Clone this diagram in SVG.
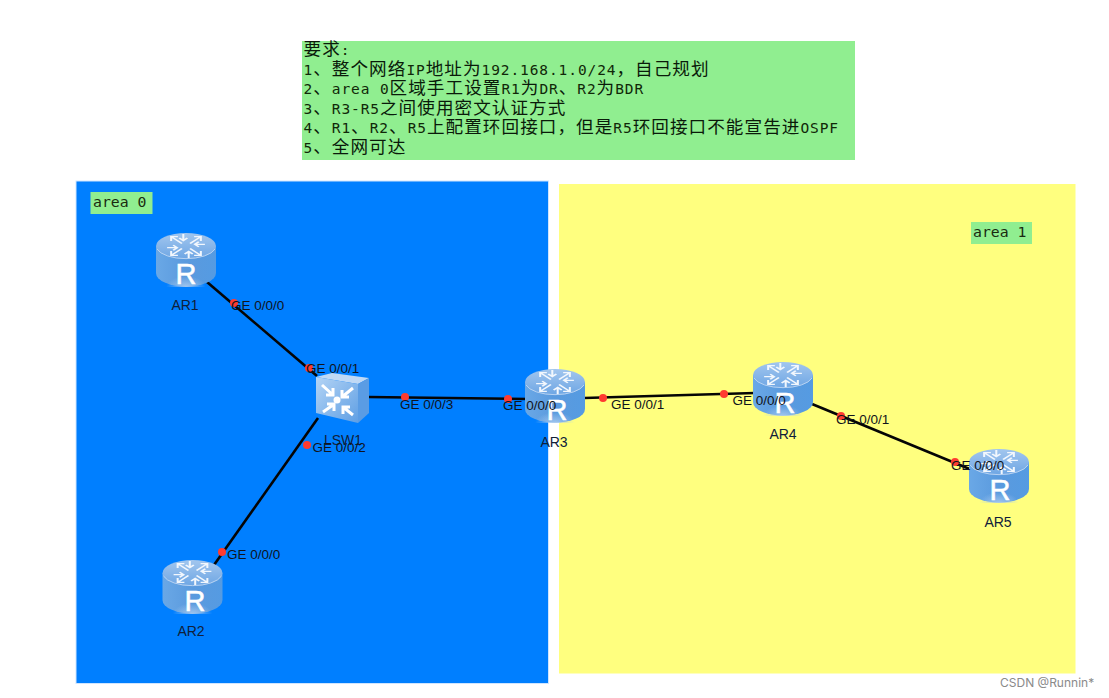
<svg xmlns="http://www.w3.org/2000/svg" width="1109" height="698" viewBox="0 0 1109 698">
<style>
.note{font-family:"DejaVu Sans Mono","Liberation Mono",monospace;font-size:14.5px;letter-spacing:.9px;fill:#102808}
.c{font-family:"Noto Sans CJK SC",sans-serif;font-size:17.600px;letter-spacing:1.050px;fill:#0a1a0a}
.tag{font-family:"DejaVu Sans Mono","Liberation Mono",monospace;font-size:14.8px;fill:#1a2a10}
.lbl{font-family:"Liberation Sans",Arial,sans-serif;font-size:13.5px;fill:#10141c}
.name{font-family:"Liberation Sans",Arial,sans-serif;font-size:14px;fill:#10203a;text-anchor:middle}
.rt{font-family:"Liberation Sans",Arial,sans-serif;font-size:29px;fill:#fff;text-anchor:middle;stroke:#fff;stroke-width:.5px}
.link{stroke:#050505;stroke-width:2.6;fill:none}
.dot{fill:#ff3b30}
.arr{stroke:#f2f7fd;stroke-width:1.5;fill:none}
</style>
<defs>
<linearGradient id="body" x1="0" x2="1" y1="0" y2="0">
<stop offset="0" stop-color="#6aa8e6"/><stop offset=".5" stop-color="#5a9ade"/><stop offset="1" stop-color="#559be2"/>
</linearGradient>
<linearGradient id="top" x1="0" x2="0" y1="0" y2="1">
<stop offset="0" stop-color="#a2c6ee"/><stop offset="1" stop-color="#6ea6e4"/>
</linearGradient>
<radialGradient id="glow" cx=".5" cy="1" r=".45">
<stop offset="0" stop-color="#a9cbf0" stop-opacity=".9"/><stop offset="1" stop-color="#a9cbf0" stop-opacity="0"/>
</radialGradient>
<linearGradient id="sw" x1="0" x2="1" y1="0" y2="1">
<stop offset="0" stop-color="#b4d4f5"/><stop offset="1" stop-color="#5f9fe4"/>
</linearGradient>
<g id="arm">
<path class="arr" d="M3 -3 L11 -11 M6 -11 H11 V-6"/>
<path class="arr" d="M14 -2 H7 M9.500 -5 L6.500 -2 L9.500 1"/>
</g>
<g id="router">
<path d="M0 13 V40 A30 13.500 0 0 0 60 40 V13 Z" fill="url(#body)"/>
<path d="M8 54 H52 V30 H8 Z" fill="url(#glow)"/>
<ellipse cx="30" cy="13" rx="30" ry="13" fill="url(#top)"/>
<path d="M1 16 A30 13 0 0 0 59 16" fill="none" stroke="#b8d3f2" stroke-width="1"/>
<g transform="translate(30 13) scale(1.35 .85)">
<use href="#arm"/>
<use href="#arm" transform="rotate(90)"/>
<use href="#arm" transform="rotate(180)"/>
<use href="#arm" transform="rotate(270)"/>
</g>
</g>
</defs>
<rect x="0" y="0" width="1109" height="698" fill="#fff"/>
<rect id="area0-bg" x="76" y="181" width="472.500" height="502.500" fill="#007fff" stroke="#cfe5ff" stroke-width="1"/>
<rect id="area1-bg" x="559" y="184" width="516.500" height="489.500" fill="#ffff7f"/>
<g id="requirements">
<rect x="302" y="41" width="553" height="119" fill="#90ee90"/>
<text class="note" x="303.500" y="55"><tspan class="c">要求</tspan>:</text>
<text class="note" x="303.500" y="74.600">1<tspan class="c">、整个网络</tspan>IP<tspan class="c">地址为</tspan>192.168.1.0/24<tspan class="c">，自己规划</tspan></text>
<text class="note" x="303.500" y="94.200">2<tspan class="c">、</tspan>area 0<tspan class="c">区域手工设置</tspan>R1<tspan class="c">为</tspan>DR<tspan class="c">、</tspan>R2<tspan class="c">为</tspan>BDR</text>
<text class="note" x="303.500" y="113.800">3<tspan class="c">、</tspan>R3-R5<tspan class="c">之间使用密文认证方式</tspan></text>
<text class="note" x="303.500" y="133.400">4<tspan class="c">、</tspan>R1<tspan class="c">、</tspan>R2<tspan class="c">、</tspan>R5<tspan class="c">上配置环回接口，但是</tspan>R5<tspan class="c">环回接口不能宣告进</tspan>OSPF</text>
<text class="note" x="303.500" y="153">5<tspan class="c">、全网可达</tspan></text>
</g>
<g id="area0-tag"><rect x="90.500" y="192" width="62" height="22" fill="#90ee90"/><text class="tag" x="93" y="207">area 0</text></g>
<g id="area1-tag"><rect x="971" y="222" width="61" height="22" fill="#90ee90"/><text class="tag" x="973" y="237">area 1</text></g>
<g id="connectors">
<line class="link" x1="207" y1="282" x2="317" y2="376"/>
<line class="link" x1="318" y1="418" x2="214" y2="565"/>
<line class="link" x1="368" y1="397" x2="528" y2="399"/>
<line class="link" x1="584" y1="398" x2="755" y2="393"/>
<line class="link" x1="812" y1="404" x2="972" y2="470"/>
</g>
<g id="AR1"><use href="#router" x="156" y="233"/><text class="rt" x="186" y="284">R</text><text class="name" x="185" y="310">AR1</text></g>
<g id="AR2"><use href="#router" x="162.500" y="560"/><text class="rt" x="195" y="611">R</text><text class="name" x="191" y="636">AR2</text></g>
<g id="AR3"><use href="#router" x="525" y="369"/><text class="rt" x="557" y="420">R</text><text class="name" x="554" y="447">AR3</text></g>
<g id="AR4"><use href="#router" x="753" y="362"/><text class="rt" x="785" y="413">R</text><text class="name" x="783" y="439">AR4</text></g>
<g id="AR5"><use href="#router" x="969" y="449"/><text class="rt" x="1000" y="500">R</text><text class="name" x="998" y="527">AR5</text></g>
<g id="LSW1">
<path d="M316 377 L332 373 L369 378 L358 384 Z" fill="#c0d9f5"/>
<path d="M358 384 L369 378 V413 L358 423 Z" fill="#5a9ce4"/>
<path d="M316 377 L358 384 V423 L316 413 Z" fill="url(#sw)"/>
<g stroke="#fff" stroke-width="3" fill="none">
<path d="M322 385 L333 395 M326 395 H333 V388"/>
<path d="M353 388 L342 397 M342 390 V397 H349"/>
<path d="M323 412 L333 405 M327 404 H334 V411"/>
<path d="M353 415 L343 407 M343 414 V407 H350"/>
</g>
<circle cx="337" cy="400" r="3.500" fill="#fff"/>
<text class="name" x="343" y="445">LSW1</text>
</g>
<g id="ports">
<circle class="dot" cx="234" cy="303" r="4"/><circle class="dot" cx="309" cy="368" r="4"/>
<circle class="dot" cx="307" cy="445" r="4"/><circle class="dot" cx="222" cy="552" r="4"/>
<circle class="dot" cx="405" cy="397" r="4"/><circle class="dot" cx="508" cy="399" r="4"/>
<circle class="dot" cx="603" cy="398" r="4"/><circle class="dot" cx="724" cy="394" r="4"/>
<circle class="dot" cx="841" cy="416" r="4"/><circle class="dot" cx="955" cy="462" r="4"/>
<text class="lbl" x="231" y="310">GE 0/0/0</text>
<text class="lbl" x="306" y="373">GE 0/0/1</text>
<text class="lbl" x="312.500" y="452">GE 0/0/2</text>
<text class="lbl" x="227" y="559">GE 0/0/0</text>
<text class="lbl" x="400" y="409">GE 0/0/3</text>
<text class="lbl" x="503" y="410">GE 0/0/0</text>
<text class="lbl" x="611" y="409">GE 0/0/1</text>
<text class="lbl" x="732.500" y="405">GE 0/0/0</text>
<text class="lbl" x="836" y="424">GE 0/0/1</text>
<text class="lbl" x="951" y="470">GE 0/0/0</text>
</g>
<text x="1000" y="687" font-family="Inter,'Liberation Sans',sans-serif" font-size="12" fill="#8a8a8a">CSDN @Runnin*</text>
</svg>
